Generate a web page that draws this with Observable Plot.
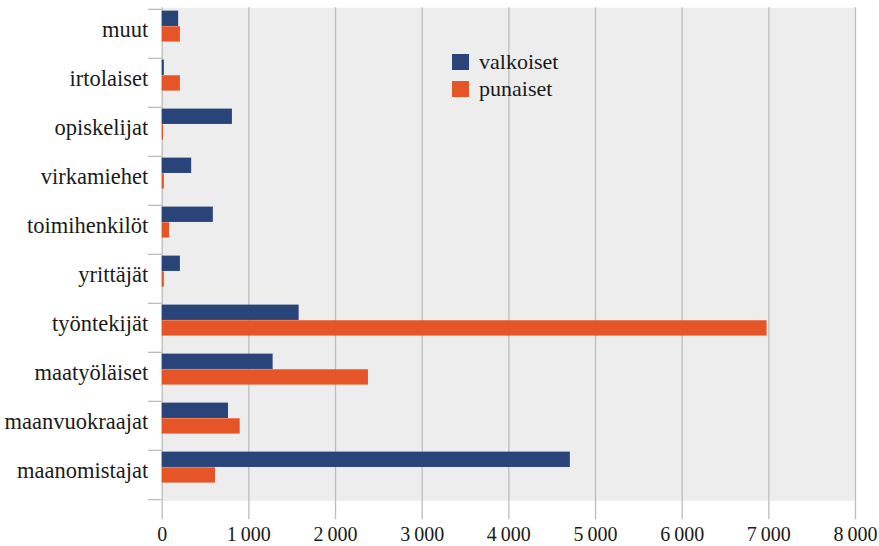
<!DOCTYPE html>
<html>
<head>
<meta charset="utf-8">
<script src="https://cdn.jsdelivr.net/npm/d3@7"></script>
<script src="https://cdn.jsdelivr.net/npm/@observablehq/plot@0.6"></script>
<style>
  html, body { margin: 0; padding: 0; background: #fff; }
  #wrap { position: relative; width: 879px; height: 546px; font-family: "Liberation Serif", "DejaVu Serif", serif; }
  #legend { position: absolute; left: 452px; top: 48.7px; font-size: 22px; color: #1a1a1a; }
  #legend .row { display: flex; align-items: center; height: 26.7px; }
  #legend .sw { width: 17px; height: 16px; margin-right: 10px; }
</style>
</head>
<body>
<div id="wrap"><div id="legend"></div></div>
<script>
const categories = ["muut", "irtolaiset", "opiskelijat", "virkamiehet", "toimihenkilöt", "yrittäjät", "työntekijät", "maatyöläiset", "maanvuokraajat", "maanomistajat"];
const series = ["valkoiset", "punaiset"];
const valkoiset = [190, 25, 810, 340, 590, 210, 1580, 1280, 765, 4710];
const punaiset = [210, 210, 15, 25, 85, 25, 6980, 2380, 900, 615];
const colors = ["#284479", "#e65527"];
const xTicks = [0, 1000, 2000, 3000, 4000, 5000, 6000, 7000, 8000];

const rows = categories.map((c, i) => ({category: c, valkoiset: valkoiset[i], punaiset: punaiset[i]}));

const W = 879, H = 546;
const mL = 161.7, mR = 24, mT = 7.3, mB = 45.7;
const bw = (H - mT - mB) / categories.length;
const barH = 15.65;
const off = 1.6;
const fmt = d => d3.format(",")(d).replace(",", "\u2009");
const lineColor = "#bcbcbc";

const chart = Plot.plot({
  width: W,
  height: H,
  marginLeft: mL,
  marginRight: mR,
  marginTop: mT,
  marginBottom: mB,
  style: {fontFamily: "'Liberation Serif', 'DejaVu Serif', serif", color: "#1a1a1a", background: "transparent"},
  x: {domain: [0, 8000], axis: null},
  y: {domain: categories, padding: 0, axis: null},
  marks: [
    Plot.frame({fill: "#ededed", stroke: "none"}),
    Plot.gridX(xTicks, {stroke: lineColor, strokeOpacity: 1, strokeWidth: 1.3}),
    Plot.barX(rows, {y: "category", x: "valkoiset", fill: colors[0], insetTop: off, insetBottom: bw - off - barH}),
    Plot.barX(rows, {y: "category", x: "punaiset", fill: colors[1], insetTop: off + barH, insetBottom: bw - off - 2 * barH}),
    Plot.axisX(xTicks, {anchor: "bottom", label: null, tickSize: 19, tickPadding: 6.5, tickFormat: fmt, stroke: lineColor, strokeWidth: 1.3, fill: "#1a1a1a", fontSize: 20}),
    Plot.axisY(categories, {anchor: "left", label: null, tickSize: 13.7, tickFormat: () => "", dy: -bw / 2, stroke: lineColor, strokeWidth: 1.3}),
    Plot.axisY([categories[categories.length - 1]], {anchor: "left", label: null, tickSize: 13.7, tickFormat: () => "", dy: bw / 2, stroke: lineColor, strokeWidth: 1.3}),
    Plot.axisY(categories, {anchor: "left", label: null, tickSize: 0, tickPadding: 14, fontSize: 22.5, dy: -4.5, fill: "#1a1a1a"})
  ]
});

const wrap = document.getElementById("wrap");
wrap.insertBefore(chart, wrap.firstChild);

const legend = document.getElementById("legend");
series.forEach((s, i) => {
  const row = document.createElement("div");
  row.className = "row";
  const sw = document.createElement("div");
  sw.className = "sw";
  sw.style.background = colors[i];
  const lab = document.createElement("span");
  lab.textContent = s;
  row.appendChild(sw);
  row.appendChild(lab);
  legend.appendChild(row);
});
</script>
</body>
</html>
